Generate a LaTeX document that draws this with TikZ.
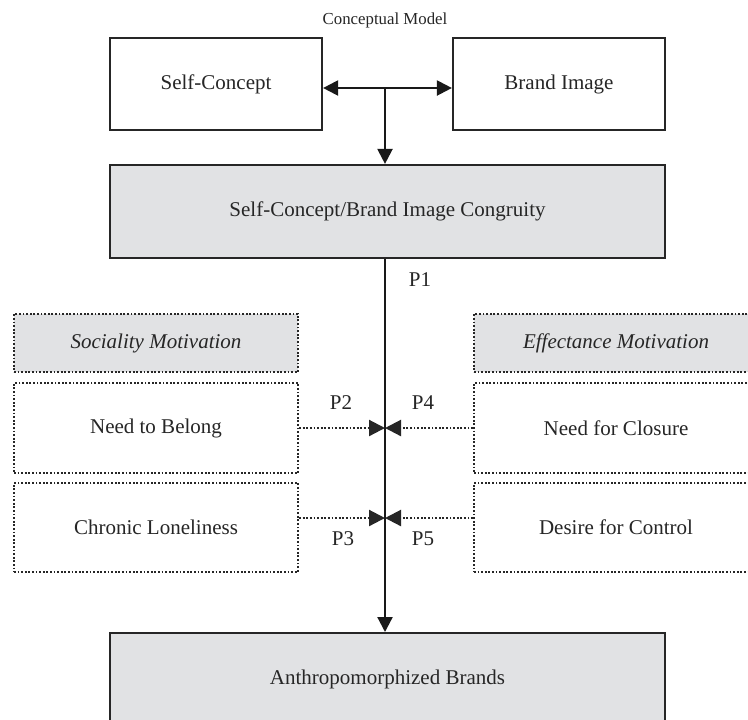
\documentclass[tikz,border=0pt]{standalone}
\usepackage{fontspec}
\setmainfont{Liberation Serif}
\usetikzlibrary{arrows.meta}
\definecolor{boxgray}{HTML}{E1E2E4}
\begin{document}
\begin{tikzpicture}[x=0.5pt,y=-0.5pt,
  every node/.style={font=\fontsize{10.5}{12}\selectfont, text=black!85},
  solidbox/.style={draw=black!85, line width=1.1pt, inner sep=0pt, minimum width=106pt, minimum height=46pt},
  graybox/.style={solidbox, fill=boxgray},
  dotbox/.style={draw=black!85, line width=1.1pt, dash pattern=on 0.9pt off 0.9pt, inner sep=0pt, minimum width=142pt},
  tip/.style={-{Triangle[length=7.5pt,width=7.5pt]}},
  dottip/.style={draw=black!85, line width=1.1pt, dash pattern=on 0.9pt off 0.9pt, -{Triangle[length=8pt,width=8pt]}},
  mainline/.style={draw=black!90, line width=1.1pt}
]
\useasboundingbox (0,0) rectangle (748,719);
\clip (0,0) rectangle (748,719);
\fill[white] (0,0) rectangle (748,719);
\node (title) at (385,20) {\fontsize{8.4}{10}\selectfont Conceptual Model};
\node[solidbox] (self) at (216,84) {Self-Concept};
\node[solidbox] (brand) at (559,84) {Brand Image};
\node[graybox, minimum width=277.5pt, minimum height=46.5pt] (cong) at (387.5,211.5) {Self-Concept/Brand Image Congruity};
\node[dotbox, fill=boxgray, minimum height=29pt] (soc) at (156,343) {\itshape Sociality Motivation};
\node[dotbox, minimum height=45pt] (belong) at (156,428) {Need to Belong};
\node[dotbox, minimum height=44.5pt] (lonely) at (156,527.5) {Chronic Loneliness};
\node[dotbox, fill=boxgray, minimum height=29pt] (eff) at (616,343) {\itshape Effectance Motivation};
\node[dotbox, minimum height=45pt] (closure) at (616,428) {Need for Closure};
\node[dotbox, minimum height=44.5pt] (control) at (616,527.5) {Desire for Control};
\node[graybox, minimum width=277.5pt, minimum height=48pt, anchor=north] (anth) at (387.5,632) {};
\node (anthtext) at (387.5,679) {Anthropomorphized Brands};
% connectors
\coordinate (j) at (385,88);
\coordinate (m1) at (385,428);
\coordinate (m2) at (385,518);
\draw[mainline, {Triangle[length=7.5pt,width=7.5pt]}-{Triangle[length=7.5pt,width=7.5pt]}] (self.east |- j) -- (brand.west |- j);
\draw[mainline, tip] (j) -- (j |- cong.north);
\draw[mainline, tip] (cong.south -| j) -- (j |- anth.north);
\draw[dottip] (belong.east |- m1) -- (m1);
\draw[dottip] (closure.west |- m1) -- (m1);
\draw[dottip] (lonely.east |- m2) -- (m2);
\draw[dottip] (control.west |- m2) -- (m2);
% labels
\node (p1) at (420,280) {P1};
\node (p2) at (341,403) {P2};
\node (p4) at (423,403) {P4};
\node (p3) at (343,539) {P3};
\node (p5) at (423,539) {P5};
\end{tikzpicture}
\end{document}
